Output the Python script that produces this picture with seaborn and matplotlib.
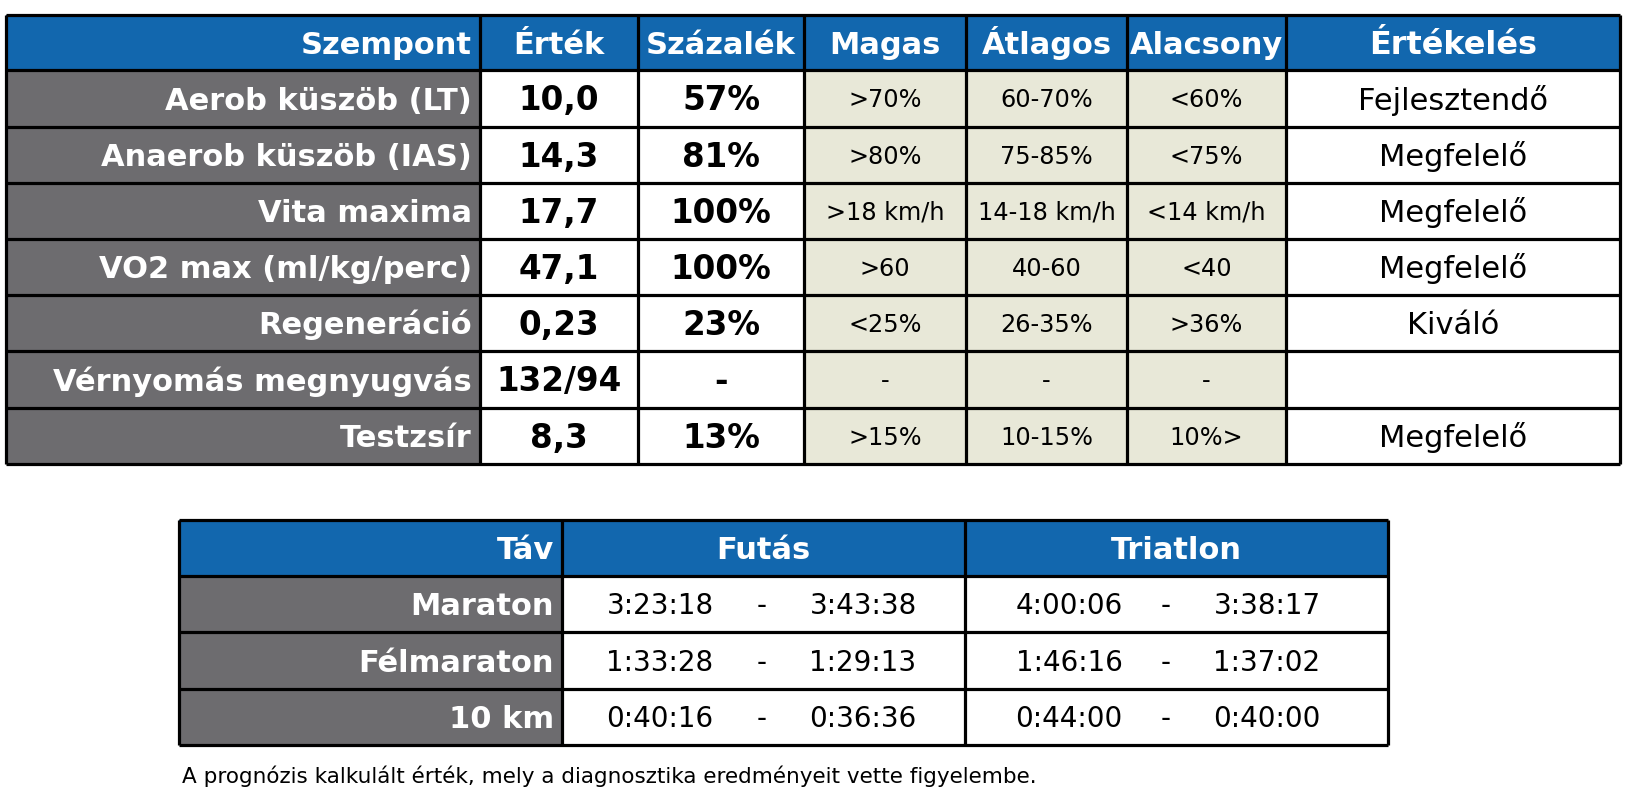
import matplotlib
matplotlib.use("Agg")
import matplotlib.pyplot as plt
from matplotlib.patches import Rectangle
import seaborn as sns

# ---------------- data ----------------
header_top = ["Szempont", "Érték", "Százalék", "Magas", "Átlagos", "Alacsony", "Értékelés"]
szempont = ["Aerob küszöb (LT)", "Anaerob küszöb (IAS)", "Vita maxima", "VO2 max (ml/kg/perc)",
            "Regeneráció", "Vérnyomás megnyugvás", "Testzsír"]
ertek = ["10,0", "14,3", "17,7", "47,1", "0,23", "132/94", "8,3"]
szazalek = ["57%", "81%", "100%", "100%", "23%", "-", "13%"]
magas = [">70%", ">80%", ">18 km/h", ">60", "<25%", "-", ">15%"]
atlagos = ["60-70%", "75-85%", "14-18 km/h", "40-60", "26-35%", "-", "10-15%"]
alacsony = ["<60%", "<75%", "<14 km/h", "<40", ">36%", "-", "10%>"]
ertekeles = ["Fejlesztendő", "Megfelelő", "Megfelelő", "Megfelelő", "Kiváló", "", "Megfelelő"]

header_bottom = ["Táv", "Futás", "Triatlon"]
tav = ["Maraton", "Félmaraton", "10 km"]
futas_from = ["3:23:18", "1:33:28", "0:40:16"]
futas_to = ["3:43:38", "1:29:13", "0:36:36"]
triatlon_from = ["4:00:06", "1:46:16", "0:44:00"]
triatlon_to = ["3:38:17", "1:37:02", "0:40:00"]

footnote = "A prognózis kalkulált érték, mely a diagnosztika eredményeit vette figyelembe."

# ---------------- style ----------------
sns.set_theme(style="white")
plt.rcParams["font.family"] = ["DejaVu Sans"]

BLUE = "#1267AE"
GRAY = "#6D6C6F"
BEIGE = "#E8E8D8"
WHITE = "#FFFFFF"
LW = 2.3

fig = plt.figure(figsize=(16.30, 7.98), dpi=100)
ax = fig.add_axes([0, 0, 1, 1])
ax.set_xlim(0, 1630)
ax.set_ylim(798, 0)
ax.axis("off")


def put(x, r, edges, s, size, ha="center", color="black", bold=False):
    """Place text with its cap height vertically centred in row r."""
    center = (edges[r] + edges[r + 1]) / 2
    px = size * 100 / 72
    ax.text(x, center + 0.365 * px, s, ha=ha, va="baseline", color=color, fontsize=size,
            fontweight="bold" if bold else "normal", zorder=4)


# ---------------- top table ----------------
xe = [6, 480, 638, 804, 966, 1127, 1286, 1620]
ye = [15, 70, 127, 183, 239, 295, 351, 408, 464]

col_bg = [GRAY, WHITE, WHITE, BEIGE, BEIGE, BEIGE, WHITE]
for r in range(len(ye) - 1):
    for c in range(len(xe) - 1):
        fc = BLUE if r == 0 else col_bg[c]
        ax.add_patch(Rectangle((xe[c], ye[r]), xe[c + 1] - xe[c], ye[r + 1] - ye[r],
                               facecolor=fc, edgecolor="none", zorder=1))
ax.hlines(ye, xe[0], xe[-1], colors="black", linewidth=LW, zorder=3)
ax.vlines(xe, ye[0], ye[-1], colors="black", linewidth=LW, zorder=3)

for c, h in enumerate(header_top):
    if c == 0:
        put(xe[1] - 8, 0, ye, h, 22, ha="right", color="white", bold=True)
    else:
        put((xe[c] + xe[c + 1]) / 2, 0, ye, h, 22 if c < 6 else 23, color="white", bold=True)

for i in range(len(szempont)):
    r = i + 1
    put(xe[1] - 8, r, ye, szempont[i], 22, ha="right", color="white", bold=True)
    put((xe[1] + xe[2]) / 2, r, ye, ertek[i], 23.5, bold=True)
    put((xe[2] + xe[3]) / 2, r, ye, szazalek[i], 23.5, bold=True)
    for c, arr in zip([3, 4, 5], [magas, atlagos, alacsony]):
        put((xe[c] + xe[c + 1]) / 2, r, ye, arr[i], 17.3)
    put((xe[6] + xe[7]) / 2, r, ye, ertekeles[i], 22)

# ---------------- bottom table ----------------
bx = [179, 562, 965, 1388]
by = [520, 576, 632, 689, 745]
bcol_bg = [GRAY, WHITE, WHITE]
for r in range(len(by) - 1):
    for c in range(len(bx) - 1):
        fc = BLUE if r == 0 else bcol_bg[c]
        ax.add_patch(Rectangle((bx[c], by[r]), bx[c + 1] - bx[c], by[r + 1] - by[r],
                               facecolor=fc, edgecolor="none", zorder=1))
ax.hlines(by, bx[0], bx[-1], colors="black", linewidth=LW, zorder=3)
ax.vlines(bx, by[0], by[-1], colors="black", linewidth=LW, zorder=3)

put(bx[1] - 8, 0, by, header_bottom[0], 22, ha="right", color="white", bold=True)
for c in (1, 2):
    put((bx[c] + bx[c + 1]) / 2, 0, by, header_bottom[c], 22, color="white", bold=True)

fut_x = [660, 762, 863]
tri_x = [1069, 1166, 1267]
for i in range(len(tav)):
    r = i + 1
    put(bx[1] - 8, r, by, tav[i], 22, ha="right", color="white", bold=True)
    for xs, a, b in ((fut_x, futas_from, futas_to), (tri_x, triatlon_from, triatlon_to)):
        put(xs[0], r, by, a[i], 20)
        put(xs[1], r, by, "-", 20)
        put(xs[2], r, by, b[i], 20)

ax.text(182, 783, footnote, ha="left", va="baseline", color="black", fontsize=15.5, zorder=4)

fig.savefig("out.png", dpi=100, facecolor="white")
